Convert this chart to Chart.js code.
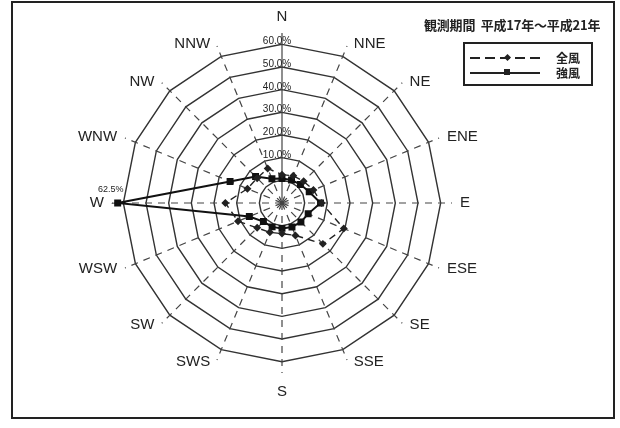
<!DOCTYPE html>
<html>
<head>
<meta charset="utf-8">
<script src="https://cdn.jsdelivr.net/npm/chart.js@4"></script>
<style>
  html, body { margin: 0; padding: 0; background: #fff; }
  #wrap { position: relative; width: 620px; height: 428px; overflow: hidden; }
  #frame { position: absolute; left: 11px; top: 1px; width: 600px; height: 414px; border: 2px solid #222; }
  #rose { position: absolute; left: 0; top: 0; }
  #period { position: absolute; left: 424px; top: 15px; font: bold 13px "Noto Sans CJK JP", sans-serif; color: #222; white-space: nowrap; letter-spacing: -0.2px; }
  #legend { position: absolute; left: 463px; top: 42px; width: 126px; height: 40px; border: 2px solid #222; font: bold 12px "Noto Sans CJK JP", sans-serif; color: #222; }
  .row { position: absolute; left: 5px; height: 14px; width: 120px; white-space: nowrap; }
  .line { position: absolute; left: 0; top: 7px; width: 70px; height: 1.5px; background: #222; }
  .line.dash { background: repeating-linear-gradient(to right, #222 0 10px, transparent 10px 15px); }
  .mark { position: absolute; left: 34px; top: 4px; width: 6px; height: 6px; background: #222; }
  .mark.dia { transform: rotate(45deg); width: 5px; height: 5px; top: 5px; left: 35px; }
  .txt { position: absolute; left: 86px; top: -1px; }
</style>
</head>
<body>
<div id="wrap">
  <div id="frame"></div>
  <canvas id="rose" width="620" height="428"></canvas>
  <div id="period">観測期間&nbsp; 平成17年～平成21年</div>
  <div id="legend">
    <div class="row" style="top:6px"><span class="line dash"></span><span class="mark dia"></span><span class="txt">全風</span></div>
    <div class="row" style="top:21px"><span class="line"></span><span class="mark"></span><span class="txt">強風</span></div>
  </div>
</div>
<script>
// 風向（16方位）
const directions = ['N', 'NNE', 'NE', 'ENE', 'E', 'ESE', 'SE', 'SSE', 'S', 'SWS', 'SW', 'WSW', 'W', 'WNW', 'NW', 'NNW'];
// 出現率（%）
const allWind = [2.5, 3, 3.5, 5, 7.5, 19.5, 15.5, 5.5, 3.5, 4, 5.5, 11, 15, 6.5, 5.5, 6.5];
const strongWind = [0.8, 1, 1.5, 3, 7, 2.5, 1.8, 1.5, 1.2, 1.4, 1.6, 5.6, 62.5, 14.8, 6.5, 1.6];
// 目盛
const tickValues = [10, 20, 30, 40, 50, 60];
const tickLabels = tickValues.map(v => v.toFixed(1) + '%');

// 方位ラベル・目盛ラベル・最大値ラベルを描く
const textPlugin = {
    id: 'roseText',
    afterDraw(chart) {
        const ctx = chart.ctx;
        const r = chart.scales.r;
        ctx.save();
        ctx.fillStyle = '#222';

        // 方位ラベル（軸の先端）
        ctx.font = '15px "Liberation Sans", Arial, sans-serif';
        ctx.textBaseline = 'middle';
        directions.forEach((name, i) => {
            const p = r.getPointPosition(i, r.drawingArea + 2);
            const dx = p.x - r.xCenter;
            const dy = p.y - r.yCenter;
            let x = p.x, y = p.y;
            if (dx > 1) { ctx.textAlign = 'left'; x += 6; }
            else if (dx < -1) { ctx.textAlign = 'right'; x -= 6; }
            else { ctx.textAlign = 'center'; y += dy < 0 ? -14 : 17; }
            ctx.fillText(name, x, y);
        });

        // 目盛ラベル
        ctx.font = '10px "Liberation Sans", Arial, sans-serif';
        ctx.textAlign = 'center';
        ctx.textBaseline = 'alphabetic';
        tickValues.forEach((v, i) => {
            const p = r.getPointPositionForValue(0, v);
            ctx.fillText(tickLabels[i], p.x - 5, p.y);
        });

        // 強風の最大値（W）
        const iMax = strongWind.indexOf(Math.max(...strongWind));
        const el = chart.getDatasetMeta(1).data[iMax];
        ctx.font = '9px "Liberation Sans", Arial, sans-serif';
        ctx.fillText(strongWind[iMax].toFixed(1) + '%', el.x - 7, el.y - 11);
        ctx.restore();
    }
};

const ctx = document.getElementById('rose').getContext('2d');
new Chart(ctx, {
    type: 'radar',
    data: {
        labels: directions,
        datasets: [{
            label: '全風',
            data: allWind,
            borderColor: '#222',
            borderWidth: 1.4,
            borderDash: [7, 5],
            pointStyle: 'rectRot',
            pointRadius: 3,
            pointBackgroundColor: '#222',
            pointBorderColor: '#222',
            fill: false
        }, {
            label: '強風',
            data: strongWind,
            borderColor: '#111',
            borderWidth: 2,
            pointStyle: 'rect',
            pointRadius: 3.5,
            pointBackgroundColor: '#111',
            pointBorderColor: '#111',
            fill: false
        }]
    },
    options: {
        responsive: false,
        animation: false,
        // 中心 (282, 203)、半径 170
        layout: { padding: { top: 33, bottom: 55, left: 112, right: 168 } },
        plugins: {
            legend: { display: false },
            tooltip: { enabled: false }
        },
        scales: {
            r: {
                min: -10,
                max: 65,
                ticks: { display: false, stepSize: 10 },
                grid: {
                    circular: false,
                    color: c => c.tick && c.tick.value > 60 ? 'rgba(0,0,0,0)' : '#333',
                    lineWidth: 1.4
                },
                angleLines: {
                    color: '#444',
                    lineWidth: 1.2,
                    borderDash: c => c.index === 0 ? [] : [7, 6]
                },
                pointLabels: { display: false }
            }
        }
    },
    plugins: [textPlugin]
});
</script>
</body>
</html>
